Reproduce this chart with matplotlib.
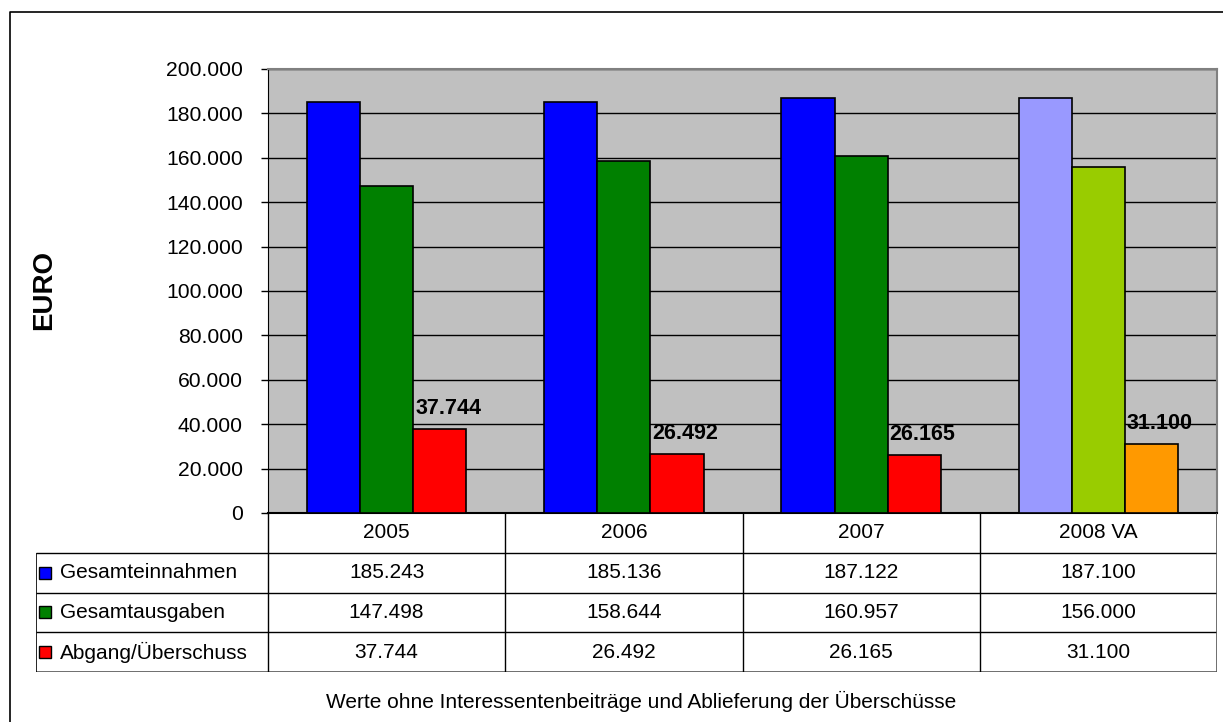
import matplotlib
matplotlib.use('Agg')
import matplotlib.pyplot as plt
from matplotlib.lines import Line2D

plt.rcParams['font.family'] = ['Liberation Sans', 'DejaVu Sans']

# chart data
years = ['2005', '2006', '2007', '2008 VA']
series = ['Gesamteinnahmen', 'Gesamtausgaben', 'Abgang/Überschuss']
einnahmen = [185243, 185136, 187122, 187100]
ausgaben = [147498, 158644, 160957, 156000]
ueberschuss = [37744, 26492, 26165, 31100]
colors = ['#0000FF', '#008000', '#FF0000']
colors_2008 = ['#9999FF', '#99CC00', '#FF9900']
yticks = list(range(0, 200001, 20000))
note = 'Werte ohne Interessentenbeiträge und Ablieferung der Überschüsse'


def de(v):
    return '{:,}'.format(v).replace(',', '.')


W, H = 1223, 722
fig = plt.figure(figsize=(W / 100, H / 100), dpi=100, facecolor='white')

def fx(px):
    return px / W

def fy(py):
    return 1 - py / H

# outer frame
fig.add_artist(Line2D([fx(10), fx(10), 1], [0, fy(12), fy(12)], color='black', lw=1.2))

# main plot
ax_l, ax_r, ax_t, ax_b = 268, 1217, 69, 513
ax = fig.add_axes([fx(ax_l), fy(ax_b), fx(ax_r - ax_l), fy(ax_t) - fy(ax_b)])
ax.set_facecolor('#C0C0C0')
ax.set_xlim(-0.5, 3.5)
ax.set_ylim(0, 200000)
ax.set_yticks(yticks)
ax.set_yticklabels([de(t) for t in yticks], fontsize=15.2)
ax.tick_params(axis='y', length=5, width=1, pad=13, direction='out')
ax.set_xticks([])
ax.yaxis.grid(True, color='black', lw=1)
ax.set_axisbelow(True)
for s in ['top', 'right']:
    ax.spines[s].set_color('#808080')
    ax.spines[s].set_linewidth(1.5)
ax.spines['left'].set_color('black')
ax.spines['bottom'].set_color('black')
ax.spines['bottom'].set_linewidth(1.5)

bw = 0.224
vals = [einnahmen, ausgaben, ueberschuss]
for i, y in enumerate(years):
    cols = colors_2008 if i == 3 else colors
    for j in range(3):
        x = i + (j - 1) * bw
        ax.bar(x, vals[j][i], width=bw, color=cols[j], edgecolor='black', lw=1.2, zorder=3)
    xr = i + bw - bw / 2
    ax.annotate(de(ueberschuss[i]), (xr, ueberschuss[i]), xytext=(2, 10),
                textcoords='offset pixels', ha='left', va='bottom',
                fontsize=15.5, fontweight='bold', zorder=4)

fig.text(fx(44), fy(290), 'EURO', rotation=90, fontsize=20, fontweight='bold',
         ha='center', va='center')

# data table
tb_l, tb_b = 36, 672
tx = fig.add_axes([fx(tb_l), fy(tb_b), fx(ax_r - tb_l), fy(ax_b) - fy(tb_b)])
unit = (ax_r - ax_l) / 4.0
x0 = -0.5 - (ax_l - tb_l) / unit
tx.set_xlim(x0, 3.5)
tx.set_ylim(4, 0)
tx.axis('off')
lc = 'black'
tx.hlines([1, 2, 3], x0, 3.5, color=lc, lw=1)
tx.hlines([4], x0, 3.5, color='#555555', lw=1.2)
tx.vlines([-0.5, 0.5, 1.5, 2.5], 0, 4, color=lc, lw=1)
tx.vlines([3.5], 0, 4, color='#555555', lw=1.2)
tx.vlines([x0], 1, 4, color=lc, lw=1.2)
for i, y in enumerate(years):
    tx.text(i, 0.5, y, ha='center', va='center', fontsize=15)
    for j in range(3):
        tx.text(i, j + 1.5, de(vals[j][i]), ha='center', va='center', fontsize=15)
for j, name in enumerate(series):
    tx.plot([x0 + 0.04], [j + 1.5], 's', ms=8.5, mfc=colors[j], mec='black', mew=1)
    tx.text(x0 + 0.1, j + 1.5, name, ha='left', va='center', fontsize=15)

fig.text(fx(641), fy(701), note, ha='center', va='center', fontsize=15)

fig.savefig('out.png', dpi=100, facecolor='white')
